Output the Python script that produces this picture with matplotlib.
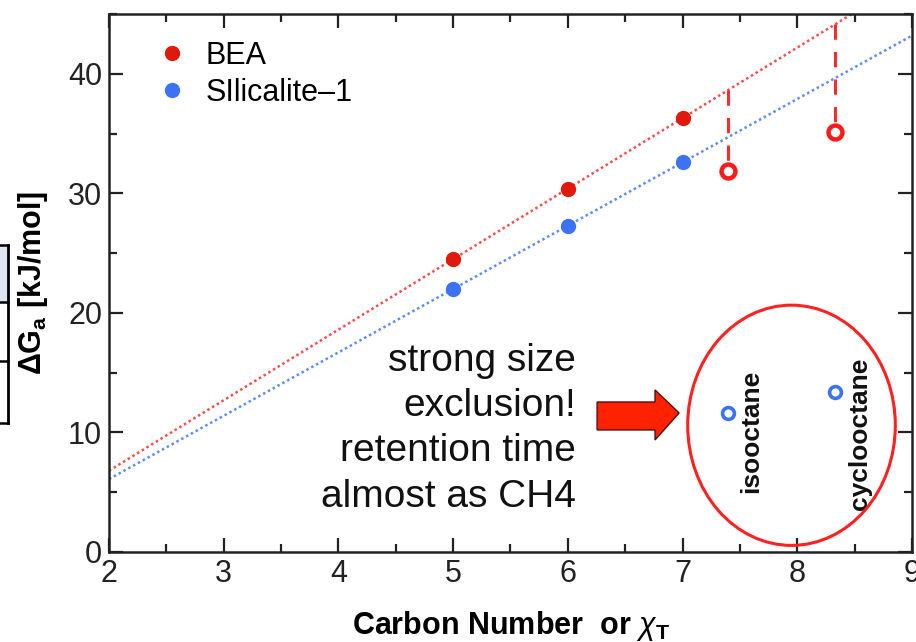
import numpy as np
import matplotlib
matplotlib.use("Agg")
import matplotlib.pyplot as plt
from matplotlib.patches import Ellipse, Polygon, Rectangle
from matplotlib.ticker import MultipleLocator

plt.rcParams['font.family'] = ['Liberation Sans', 'DejaVu Sans']
plt.rcParams['mathtext.fontset'] = 'custom'
plt.rcParams['mathtext.rm'] = 'Liberation Sans'
plt.rcParams['mathtext.bf'] = 'Liberation Sans:bold'
plt.rcParams['mathtext.it'] = 'Liberation Sans:italic'

# linear alkanes (carbon number) and measured free energies
carbon = [5, 6, 7]
dg_bea = [24.5, 30.4, 36.3]
dg_sil = [22.0, 27.3, 32.6]

# branched / cyclic C8 at their effective chi_T
chi_t = [7.4, 8.33]
dg_bea_c8 = [31.9, 35.1]
dg_sil_c8 = [11.6, 13.4]
c8_names = ['isooctane', 'cyclooctane']

red = '#e0190d'
blue = '#3c73f5'

fig = plt.figure(figsize=(9.16, 6.42), dpi=100)
ax = fig.add_axes([0.119, 0.1402, 0.8766, 0.8378])

# fitted lines through the linear alkanes
xs = np.array([2.0, 9.0])
p_bea = np.polyfit(carbon, dg_bea, 1)
p_sil = np.polyfit(carbon, dg_sil, 1)
ax.plot(xs, np.polyval(p_bea, xs), ls=(0, (1, 1.2)), lw=1.8, color='#ff4a4a', zorder=2)
ax.plot(xs, np.polyval(p_sil, xs), ls=(0, (1, 1.2)), lw=1.8, color='#5b8cff', zorder=2)

ax.plot(carbon, dg_bea, 'o', ms=10, color=red, mec=red, ls='none', label='BEA', zorder=4)
ax.plot(carbon, dg_sil, 'o', ms=10, color=blue, mec=blue, ls='none', label='SIlicalite\u20131', zorder=4)

# drop from the BEA line to the measured C8 values
for x, y in zip(chi_t, dg_bea_c8):
    ax.plot([x, x], [np.polyval(p_bea, x), y], color='#ff2a2a', lw=2.2,
            dashes=(5, 4), zorder=3)
ax.plot(chi_t, dg_bea_c8, 'o', ms=10, mfc='white', mec='#ff1a1a', mew=3.2, ls='none', zorder=5)
ax.plot(chi_t, dg_sil_c8, 'o', ms=8.5, mfc='white', mec=blue, mew=2.6, ls='none', zorder=5)

label_x = [7.6, 8.55]
label_y = [10.1, 9.9]
for lx, ly, name in zip(label_x, label_y, c8_names):
    ax.text(lx, ly, name, rotation=90, ha='center', va='center',
            fontsize=19, fontweight='bold', color='#111111')

ax.add_patch(Ellipse((7.95, 10.6), 1.81, 20.1, fill=False, ec='#ff2020', lw=2.2, zorder=3))

arrow = Polygon([(6.255, 12.55), (6.76, 12.55), (6.76, 13.56), (6.97, 11.63),
                 (6.76, 9.37), (6.76, 10.21), (6.255, 10.21)],
                closed=True, fc='#ff2200', ec='#551010', lw=1.0, zorder=4)
ax.add_patch(arrow)

ax.text(6.07, 10.3, 'strong size\nexclusion!\nretention time\nalmost as CH4',
        ha='right', va='center', multialignment='right', fontsize=28,
        linespacing=1.33, color='#111111')

ax.set_xlim(2, 9)
ax.set_ylim(0, 45)
ax.xaxis.set_major_locator(MultipleLocator(1))
ax.xaxis.set_minor_locator(MultipleLocator(0.5))
ax.yaxis.set_major_locator(MultipleLocator(10))
ax.yaxis.set_minor_locator(MultipleLocator(5))
ax.tick_params(which='both', direction='in', top=True, right=True, width=1.6,
               labelsize=22, colors='#222222')
ax.tick_params(which='major', length=10, pad=5)
ax.tick_params(which='minor', length=6)
for s in ax.spines.values():
    s.set_linewidth(1.8)
    s.set_color('#222222')

ax.set_xlabel(r'Carbon Number  or $\chi_\mathbf{T}$', fontsize=22, fontweight='bold')
ax.xaxis.set_label_coords(0.5, -0.106)
ax.set_ylabel(r'$\mathbf{\Delta G_a}$ [kJ/mol]', fontsize=22, fontweight='bold')
ax.yaxis.set_label_coords(-0.074, 0.5)

ax.legend(loc='upper left', bbox_to_anchor=(0.033, 0.99), frameon=False, fontsize=22,
          handletextpad=0.6, handlelength=1.0, labelspacing=0.22, borderaxespad=0.3)

# edge of a neighbouring table
fig.patches.append(Rectangle((-0.01, (642 - 302) / 642), 0.019, 57 / 642,
                             transform=fig.transFigure, fc='#dde6f1', ec='none'))
for yp in [245, 302, 361, 423]:
    fig.add_artist(plt.Line2D([0, 0.009], [(642 - yp) / 642] * 2,
                              transform=fig.transFigure, color='black', lw=1.8))
fig.add_artist(plt.Line2D([0.009, 0.009], [(642 - 423) / 642, (642 - 245) / 642],
                          transform=fig.transFigure, color='black', lw=2.0))

fig.savefig('out.png', dpi=100)
